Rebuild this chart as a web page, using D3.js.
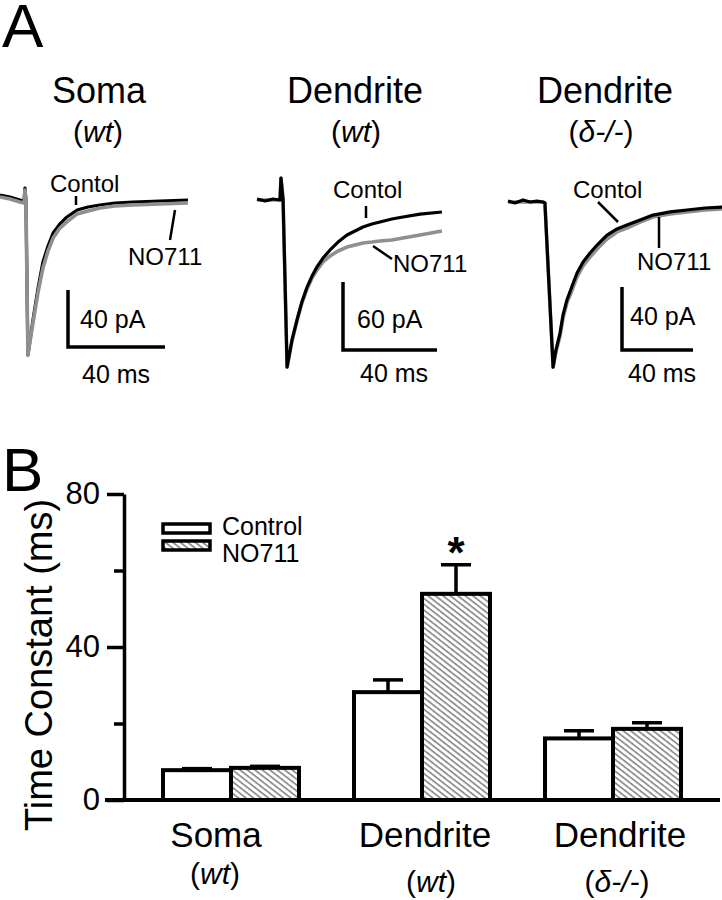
<!DOCTYPE html>
<html>
<head>
<meta charset="utf-8">
<script src="https://cdn.jsdelivr.net/npm/d3@7"></script>
<style>
  body { margin: 0; background: #fff; }
  text { font-family: "Liberation Sans", Arial, sans-serif; fill: #000; }
</style>
</head>
<body>
<div id="chart"></div>
<script>
// ---- panel A traces: [time ms, current pA] ----
var somaControl = [[0,1.4],[4.1,0],[8.2,-2.1],[9.9,-2.8],[10.3,6.3],[10.7,-2.1],[11.5,-110.9],[13.6,-86.3],[15.7,-63.9],[17.7,-45.6],[19.8,-34.4],[21.9,-25.3],[24.7,-18.9],[27.6,-14.0],[31.8,-9.1],[36.3,-7.0],[41.2,-5.6],[47.4,-4.2],[54.8,-3.5],[66.0,-2.8],[77.5,-2.1]];
var somaNO711 = [[0,0],[4.1,-1.4],[8.2,-3.5],[9.9,-4.2],[10.3,4.9],[10.7,-3.5],[11.5,-110.9],[13.6,-88.4],[15.7,-66.7],[17.7,-49.8],[19.8,-37.9],[21.9,-28.8],[24.7,-21.8],[27.6,-17.5],[31.8,-11.9],[36.3,-9.8],[41.2,-7.7],[47.4,-6.3],[54.8,-5.6],[66.0,-4.9],[77.5,-4.2]];

var wtControl = [[0,0.9],[3.4,-0.9],[6.8,0.9],[9.8,0],[10.2,19.4],[11.1,0],[12.8,-147.4],[14.9,-123.5],[17.0,-105.9],[19.1,-90.0],[21.3,-76.8],[23.4,-67.1],[25.5,-59.1],[28.1,-51.2],[31.1,-44.1],[34.5,-37.1],[38.3,-30.9],[41.7,-27.4],[45.1,-23.8],[48.9,-21.2],[52.3,-19.4],[57.4,-16.8],[62.1,-15.0],[69.4,-12.4],[78.7,-10.6]];
var wtNO711 = [[0,0],[9.8,0],[10.2,19.4],[11.1,0],[12.8,-147.4],[14.9,-124.4],[17.0,-106.8],[19.1,-90.9],[21.3,-78.5],[23.4,-68.8],[25.5,-61.8],[28.1,-54.7],[31.1,-49.4],[34.5,-45.0],[38.3,-41.5],[41.7,-39.7],[45.1,-37.9],[48.9,-37.1],[52.3,-36.2],[57.4,-35.3],[62.1,-33.5],[69.4,-30.9],[78.7,-27.4]];

var deltaControl = [[0,0.6],[3.9,-0.6],[8.5,1.3],[12.4,0],[16.3,0.6],[19.7,0],[20.8,-0.6],[25.4,-104.8],[27.0,-94.0],[29.3,-83.2],[31.0,-71.7],[33.2,-62.2],[36.1,-53.3],[38.9,-45.1],[42.3,-38.1],[46.2,-32.4],[50.7,-26.7],[55.8,-21.0],[61.4,-17.1],[67.0,-14.6],[74.4,-11.4],[81.7,-8.3],[91.3,-6.3],[100.8,-5.1],[111.0,-3.8],[120.6,-3.2]];
var deltaNO711 = [[0,0],[19.7,0],[20.8,-0.6],[25.4,-104.8],[27.0,-95.2],[29.3,-85.1],[31.0,-73.7],[33.2,-64.1],[36.1,-55.9],[38.9,-47.6],[42.3,-40.6],[46.2,-34.9],[50.7,-29.2],[55.8,-23.5],[61.4,-19.0],[67.0,-16.5],[74.4,-12.7],[81.7,-9.5],[91.3,-7.6],[100.8,-6.3],[111.0,-5.1],[120.6,-4.4]];

// ---- panel B bars ----
var groups = ["Soma (wt)", "Dendrite (wt)", "Dendrite (d-/-)"];
var series = ["Control", "NO711"];
var controlMean = [7.8, 28.2, 16.1];
var controlErr = [0.4, 3.2, 2.0];
var no711Mean = [8.4, 53.9, 18.6];
var no711Err = [0.4, 7.6, 1.6];
var yTicks = [0, 40, 80];
var yMinorTicks = [20, 60];

var svg = d3.select("#chart").append("svg").attr("width", 722).attr("height", 900);

// hatch pattern
svg.append("defs").append("pattern")
    .attr("id", "hatch")
    .attr("patternUnits", "userSpaceOnUse")
    .attr("width", 4.6).attr("height", 10)
    .attr("patternTransform", "rotate(-52)")
  .append("line")
    .attr("x1", 1).attr("y1", 0).attr("x2", 1).attr("y2", 10)
    .attr("stroke", "#3a3a3a").attr("stroke-width", 1);

// panel letters
svg.append("text").attr("x", 2).attr("y", 47).attr("font-size", 62).text("A");
svg.append("text").attr("x", 2).attr("y", 491).attr("font-size", 62).text("B");

// ---- panel A ----
var panels = [
  {title: "Soma", sub: "wt", cx: 99, subCx: 98, ctrl: somaControl, drug: somaNO711, grayOnTop: true,
   x0: 0, msPx: 97, base: 197, pA: 40, pAPx: 57, bar: [68, 347],
   ctrlLbl: [50, 192], ctrlLead: [[76,196],[76,205]],
   drugLbl: [128, 265], drugLead: [[170,240],[175,210]],
   pALbl: [80, 328], msLbl: [82, 383]},
  {title: "Dendrite", sub: "wt", cx: 355, subCx: 356, ctrl: wtControl, drug: wtNO711, grayOnTop: false,
   x0: 257, msPx: 94, base: 200, pA: 60, pAPx: 68, bar: [343, 350],
   ctrlLbl: [333, 198], ctrlLead: [[366,206],[366,218]],
   drugLbl: [393, 272], drugLead: [[373,246],[392,259]],
   pALbl: [357, 328], msLbl: [360, 382]},
  {title: "Dendrite", sub: "\u03B4-/-", cx: 605, subCx: 601, ctrl: deltaControl, drug: deltaNO711, grayOnTop: false,
   x0: 508, msPx: 71, base: 202, pA: 40, pAPx: 63, bar: [622, 350],
   ctrlLbl: [573, 198], ctrlLead: [[598,202],[618,222]],
   drugLbl: [637, 270], drugLead: [[659,217],[659,248]],
   pALbl: [630, 325], msLbl: [628, 382]}
];

panels.forEach(function(p){
  var x = d3.scaleLinear().domain([0, 40]).range([p.x0, p.x0 + p.msPx]);
  var y = d3.scaleLinear().domain([0, -p.pA]).range([p.base, p.base + p.pAPx]);
  var line = d3.line().x(d => x(d[0])).y(d => y(d[1]));

  svg.append("text").attr("x", p.cx).attr("y", 103).attr("font-size", 36)
    .attr("text-anchor", "middle").text(p.title);
  var sub = svg.append("text").attr("x", p.subCx).attr("y", 142).attr("font-size", 30)
    .attr("text-anchor", "middle");
  sub.append("tspan").text("(");
  sub.append("tspan").attr("font-style", "italic").text(p.sub);
  sub.append("tspan").text(")");

  var order = p.grayOnTop ? [[p.ctrl, "#000", 3.2], [p.drug, "#8f8f8f", 3.6]] : [[p.drug, "#8f8f8f", 3.6], [p.ctrl, "#000", 3.2]];
  order.forEach(function(o){
    svg.append("path").datum(o[0]).attr("d", line)
      .attr("fill", "none").attr("stroke", o[1]).attr("stroke-width", o[2])
      .attr("stroke-linejoin", "round");
  });

  // scale bars
  var bx = p.bar[0], by = p.bar[1];
  var vLen = y(-p.pA) - y(0), hLen = x(40) - x(0);
  svg.append("path")
    .attr("d", "M" + bx + "," + (by - vLen) + "V" + by + "H" + (bx + hLen))
    .attr("fill", "none").attr("stroke", "#000").attr("stroke-width", 3.5);
  svg.append("text").attr("x", p.pALbl[0]).attr("y", p.pALbl[1]).attr("font-size", 25).text(p.pA + " pA");
  svg.append("text").attr("x", p.msLbl[0]).attr("y", p.msLbl[1]).attr("font-size", 25).text("40 ms");

  // trace labels
  svg.append("text").attr("x", p.ctrlLbl[0]).attr("y", p.ctrlLbl[1]).attr("font-size", 24).text("Contol");
  svg.append("text").attr("x", p.drugLbl[0]).attr("y", p.drugLbl[1]).attr("font-size", 24).text("NO711");
  [p.ctrlLead, p.drugLead].forEach(function(l){
    svg.append("line").attr("x1", l[0][0]).attr("y1", l[0][1]).attr("x2", l[1][0]).attr("y2", l[1][1])
      .attr("stroke", "#000").attr("stroke-width", 2.5);
  });
});

// ---- panel B ----
var yB = d3.scaleLinear().domain([0, 80]).range([800, 494]);
var xG = d3.scalePoint().domain(groups).range([231, 613]);
var xS = d3.scaleBand().domain(series).range([-68, 68]);

var rows = [];
groups.forEach(function(g, i){
  rows.push({g: g, s: "Control", v: controlMean[i], e: controlErr[i]});
  rows.push({g: g, s: "NO711", v: no711Mean[i], e: no711Err[i]});
});

var bars = svg.append("g");
bars.selectAll("rect").data(rows).join("rect")
  .attr("x", d => xG(d.g) + xS(d.s))
  .attr("y", d => yB(d.v))
  .attr("width", xS.bandwidth())
  .attr("height", d => yB(0) - yB(d.v))
  .attr("fill", d => d.s === "Control" ? "#fff" : "url(#hatch)")
  .attr("stroke", "#000").attr("stroke-width", 4);

var errs = svg.append("g").attr("stroke", "#000").attr("stroke-width", 3.5);
rows.forEach(function(d){
  var cx = xG(d.g) + xS(d.s) + xS.bandwidth() / 2;
  errs.append("line").attr("x1", cx).attr("x2", cx).attr("y1", yB(d.v)).attr("y2", yB(d.v + d.e));
  errs.append("line").attr("x1", cx - 15).attr("x2", cx + 15).attr("y1", yB(d.v + d.e)).attr("y2", yB(d.v + d.e));
});

// significance star over Dendrite (wt) NO711
svg.append("text")
  .attr("x", xG(groups[1]) + xS("NO711") + xS.bandwidth() / 2)
  .attr("y", yB(no711Mean[1] + no711Err[1]) + 3)
  .attr("text-anchor", "middle").attr("font-size", 44).attr("font-weight", "bold").text("*");

// axes
var yAxis = svg.append("g").attr("transform", "translate(124,0)")
  .call(d3.axisLeft(yB).tickValues(yTicks).tickSize(17).tickSizeOuter(0).tickPadding(7));
svg.append("g").attr("transform", "translate(124,0)")
  .call(d3.axisLeft(yB).tickValues(yMinorTicks).tickSize(10).tickSizeOuter(0).tickFormat(""))
  .select(".domain").remove();
svg.selectAll(".tick line, .domain").attr("stroke-width", 3.5);
yAxis.selectAll("text").attr("font-size", 31).attr("font-family", "Liberation Sans, Arial, sans-serif");
svg.append("line").attr("x1", 105).attr("x2", 720).attr("y1", yB(0)).attr("y2", yB(0))
  .attr("stroke", "#000").attr("stroke-width", 4);

svg.append("text").attr("transform", "translate(52,665) rotate(-90)")
  .attr("text-anchor", "middle").attr("font-size", 38).text("Time Constant (ms)");

// x category labels
var catTitle = ["Soma", "Dendrite", "Dendrite"];
var catSub = ["wt", "wt", "\u03B4-/-"];
var catCx = [216, 425, 620];
var catSubCx = [215, 431, 617];
var catSubY = [884, 892, 892];
catTitle.forEach(function(t, i){
  svg.append("text").attr("x", catCx[i]).attr("y", 847).attr("font-size", 35)
    .attr("text-anchor", "middle").text(t);
  var s = svg.append("text").attr("x", catSubCx[i]).attr("y", catSubY[i]).attr("font-size", 30)
    .attr("text-anchor", "middle");
  s.append("tspan").text("(");
  s.append("tspan").attr("font-style", "italic").text(catSub[i]);
  s.append("tspan").text(")");
});

// legend
series.forEach(function(s, i){
  svg.append("rect").attr("x", 163).attr("y", 524 + i * 17).attr("width", 47).attr("height", 9)
    .attr("fill", s === "Control" ? "#fff" : "url(#hatch)")
    .attr("stroke", "#000").attr("stroke-width", 3.5);
  svg.append("text").attr("x", 222).attr("y", 535 + i * 27).attr("font-size", 25).text(s);
});
</script>
</body>
</html>
